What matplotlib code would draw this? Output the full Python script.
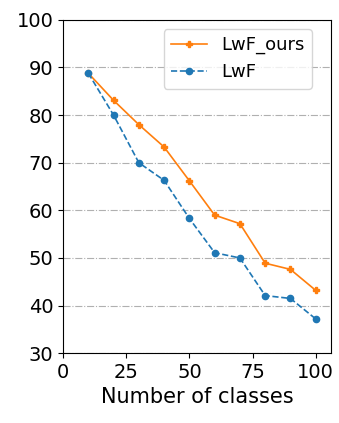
import matplotlib
matplotlib.use('Agg')
import matplotlib.pyplot as plt

classes = [10, 20, 30, 40, 50, 60, 70, 80, 90, 100]
lwf_ours = [88.8, 83.1, 78.0, 73.3, 66.2, 59.0, 57.2, 48.9, 47.6, 43.2]
lwf = [88.8, 80.0, 70.0, 66.3, 58.3, 51.1, 50.0, 42.1, 41.5, 37.2]

fig = plt.figure(figsize=(3.39, 4.23), dpi=100)
ax = fig.add_axes([0.186, 0.165, 0.79, 0.788])

ax.plot(classes, lwf_ours, color='tab:orange', marker='P', markersize=4.5, linewidth=1.2,
        linestyle='-', label='LwF_ours')
ax.plot(classes, lwf, color='tab:blue', marker='o', markersize=4.5, linewidth=1.2,
        linestyle='--', label='LwF')

ax.set_ylim(30, 100)
ax.set_xlim(0, 106)
ax.set_xticks([0, 25, 50, 75, 100])
ax.set_yticks(range(30, 101, 10))
ax.grid(axis='y', linestyle='-.', color='#b0b0b0')
ax.tick_params(labelsize=14)
ax.set_xlabel('Number of classes', fontsize=15)
ax.legend(fontsize=13, loc='upper right', bbox_to_anchor=(0.963, 1.0))

fig.savefig('out.png')
